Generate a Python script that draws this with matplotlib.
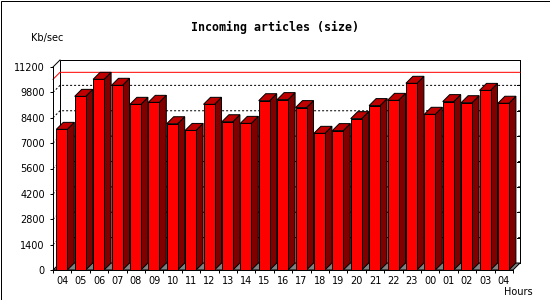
"""
Incoming articles (size) -- jpgraph-style 3D bar chart recreated with matplotlib.
"""

import matplotlib

matplotlib.use("Agg")

import matplotlib.pyplot as plt
import numpy as np
from matplotlib.patches import Polygon, Rectangle

# ---------------------------------------------------------------------------
# data
# ---------------------------------------------------------------------------

hours = [
    "04", "05", "06", "07", "08", "09", "10", "11", "12", "13", "14", "15",
    "16", "17", "18", "19", "20", "21", "22", "23", "00", "01", "02", "03",
    "04",
]

size_kb = [
    7760, 9580, 10520, 10190, 9140, 9250, 8070, 7700, 9140, 8180, 8090, 9340,
    9400, 8960, 7540, 7690, 8350, 9070, 9360, 10300, 8590, 9290, 9230, 9910,
    9200,
]

y_ticks = [0, 1400, 2800, 4200, 5600, 7000, 8400, 9800, 11200]

# ---------------------------------------------------------------------------
# layout (pixels of a 550x300 image)
# ---------------------------------------------------------------------------

FIG_W, FIG_H, DPI = 550, 300, 100
PLOT_LEFT, PLOT_RIGHT = 53, 513
PLOT_TOP, PLOT_BOTTOM = 67, 270
DEPTH_PX = 7
BAR_PX = 11
BAR_SHIFT_PX = 3.3
LW = 0.72  # one pixel

FRONT = "#ff0000"
SIDE = "#800000"
TOP = "#c00000"
FLOOR = "#808080"


def px_to_units(n_slots: int, y_max: float) -> tuple[float, float]:
    """
    Data units per pixel along x and y.
    """

    ux = n_slots / (PLOT_RIGHT - PLOT_LEFT)
    uy = y_max / (PLOT_BOTTOM - PLOT_TOP)

    return ux, uy


def add_poly(ax, points, color, zorder, edge="black"):
    ax.add_patch(
        Polygon(
            points,
            closed=True,
            facecolor=color,
            edgecolor=edge,
            linewidth=LW,
            zorder=zorder,
            clip_on=False,
            joinstyle="miter",
        )
    )


def main() -> None:
    n = len(hours)
    y_max = y_ticks[-1]

    fig = plt.figure(figsize=(FIG_W / DPI, FIG_H / DPI), dpi=DPI)
    fig.patch.set_facecolor("white")

    ax = fig.add_axes(
        [
            PLOT_LEFT / FIG_W,
            1 - PLOT_BOTTOM / FIG_H,
            (PLOT_RIGHT - PLOT_LEFT) / FIG_W,
            (PLOT_BOTTOM - PLOT_TOP) / FIG_H,
        ]
    )
    ax.set_facecolor("none")

    x0, x1 = -0.5, n - 0.5
    ax.set_xlim(x0, x1)
    ax.set_ylim(0, y_max)

    ux, uy = px_to_units(n, y_max)
    dx = DEPTH_PX * ux
    dy = DEPTH_PX * uy

    # back wall
    add_poly(
        ax,
        [(x0 + dx, dy), (x0 + dx, y_max + dy), (x1 + dx, y_max + dy), (x1 + dx, dy)],
        "white",
        0,
    )

    # dotted grid on side wall and back wall
    for t in y_ticks[1:-1]:
        ax.plot(
            [x0, x0 + dx, x1 + dx],
            [t, t + dy, t + dy],
            color="black",
            linewidth=LW,
            linestyle=(0, (2, 2)),
            zorder=1,
            clip_on=False,
        )

    # ticks on the right edge of the back wall
    for t in y_ticks:
        ax.plot(
            [x1 + dx - 3 * ux, x1 + dx],
            [t + dy, t + dy],
            color="black",
            linewidth=LW,
            zorder=1,
            clip_on=False,
        )

    # maximum line
    peak = max(size_kb)
    ax.plot(
        [x0, x0 + dx, x1 + dx],
        [peak, peak + dy, peak + dy],
        color="red",
        linewidth=LW,
        zorder=1.5,
        clip_on=False,
    )

    # top-left wall edge and floor edge
    ax.plot([x0, x0 + dx], [y_max, y_max + dy], color="black", linewidth=LW,
            zorder=1.5, clip_on=False)

    # floor
    add_poly(
        ax,
        [(x0, 0), (x0 + dx, dy), (x1 + dx, dy), (x1, 0)],
        FLOOR,
        2,
    )

    # bars
    for i, value in enumerate(size_kb):
        xl = i - 0.5 + BAR_SHIFT_PX * ux
        xr = xl + BAR_PX * ux

        add_poly(ax, [(xr, 0), (xr + dx, dy), (xr + dx, value + dy), (xr, value)],
                 SIDE, 3)
        add_poly(ax, [(xl, value), (xr, value), (xr + dx, value + dy),
                      (xl + dx, value + dy)], TOP, 3)
        add_poly(ax, [(xl, 0), (xl, value), (xr, value), (xr, 0)], FRONT, 3)

    # axes
    for side in ("top", "right"):
        ax.spines[side].set_visible(False)

    for side in ("left", "bottom"):
        ax.spines[side].set_linewidth(LW)
        ax.spines[side].set_zorder(4)

    ax.set_yticks(y_ticks, [str(t) for t in y_ticks])
    ax.tick_params(
        axis="y",
        direction="out",
        length=2.2,
        width=LW,
        labelsize=7,
        pad=3.6,
    )

    ax.set_xticks(range(n), hours)
    ax.set_xticks(np.arange(x0, x1 + 0.01, 1.0), minor=True)
    ax.tick_params(axis="x", which="major", length=0, labelsize=7, pad=4.3)
    ax.tick_params(axis="x", which="minor", direction="out", length=2.2, width=LW)

    # texts
    fig.text(
        275 / FIG_W,
        1 - 27 / FIG_H,
        "Incoming articles (size)",
        ha="center",
        va="center",
        family="DejaVu Sans Mono",
        fontweight="bold",
        fontsize=8.4,
    )
    fig.text(47 / FIG_W, 1 - 38 / FIG_H, "Kb/sec", ha="center", va="center",
             fontsize=7)
    fig.text(533 / FIG_W, 1 - 292 / FIG_H, "Hours", ha="right", va="center",
             fontsize=7)

    # image border
    fig.add_artist(
        Rectangle(
            (0.5 / FIG_W, 0.5 / FIG_H),
            (FIG_W - 1) / FIG_W,
            (FIG_H - 1) / FIG_H,
            transform=fig.transFigure,
            fill=False,
            edgecolor="black",
            linewidth=LW,
        )
    )

    fig.savefig("out.png", dpi=DPI)

    plt.close(fig)


if __name__ == "__main__":
    main()
